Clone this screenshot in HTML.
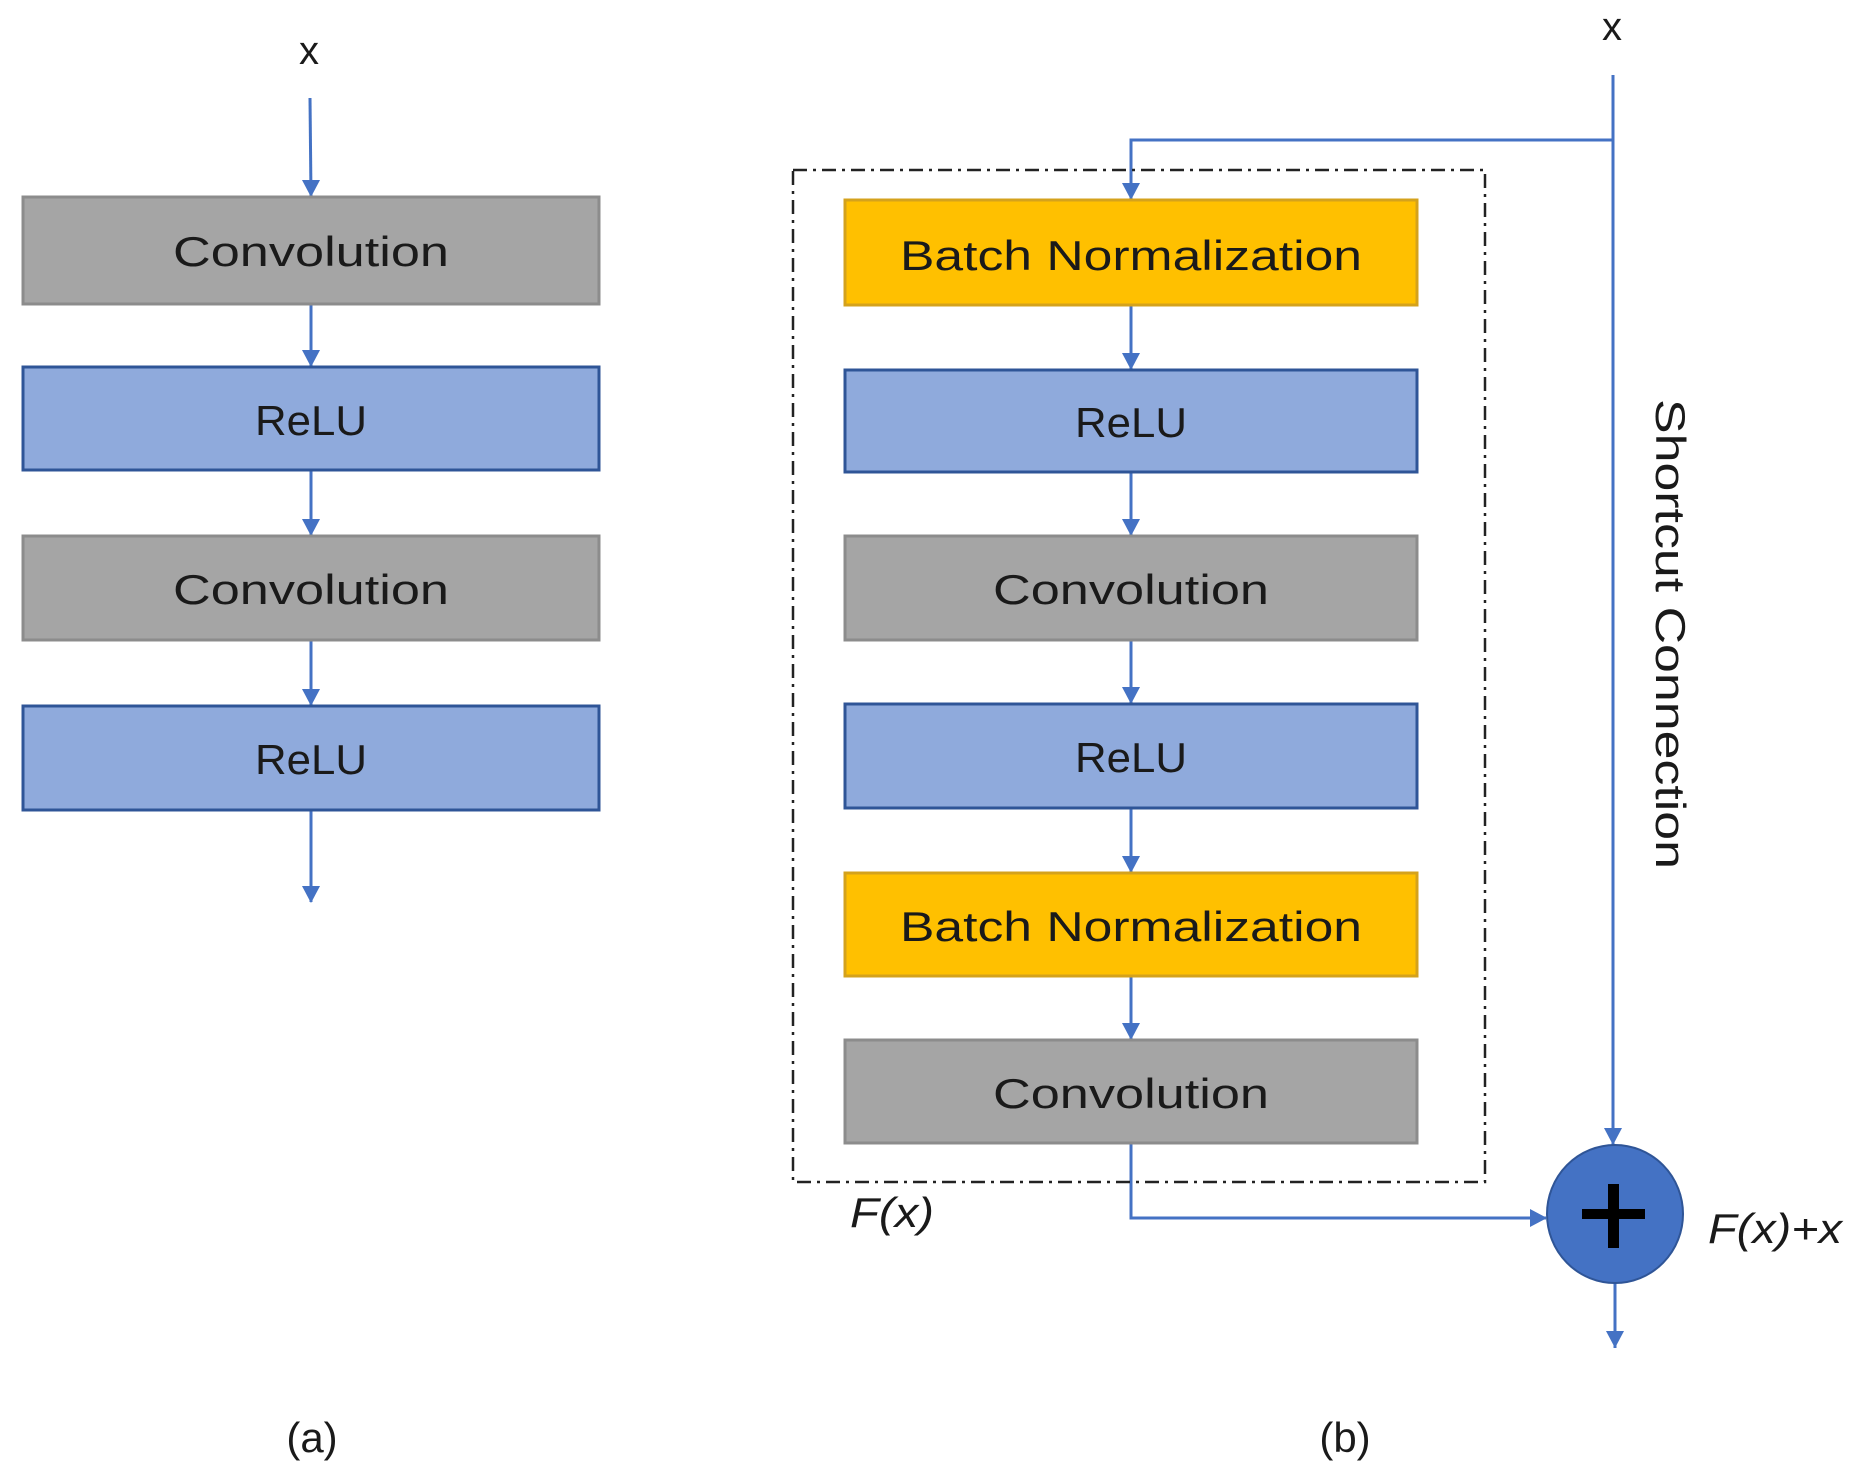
<!DOCTYPE html>
<html><head><meta charset="utf-8"><style>html,body{margin:0;padding:0;background:#fff}svg{display:block}</style></head>
<body>
<svg width="1866" height="1481" viewBox="0 0 1866 1481" xmlns="http://www.w3.org/2000/svg" font-family="Liberation Sans, sans-serif">
<g stroke="#4472c4" stroke-width="3" fill="none">
<line x1="310" y1="98" x2="311" y2="196"/>
<line x1="311" y1="305" x2="311" y2="366"/>
<line x1="311" y1="471" x2="311" y2="535"/>
<line x1="311" y1="641" x2="311" y2="705"/>
<line x1="311" y1="811" x2="311" y2="902"/>
<polyline points="1613,75 1613,140 1131,140 1131,199"/>
<line x1="1613" y1="140" x2="1613" y2="1145"/>
<line x1="1131" y1="306" x2="1131" y2="369"/>
<line x1="1131" y1="473" x2="1131" y2="535"/>
<line x1="1131" y1="641" x2="1131" y2="703"/>
<line x1="1131" y1="809" x2="1131" y2="872"/>
<line x1="1131" y1="977" x2="1131" y2="1039"/>
<polyline points="1131,1144 1131,1218 1546,1218"/>
<line x1="1615" y1="1283" x2="1615" y2="1348"/>
</g>
<g fill="#4472c4">
<path d="M302,180 L320,180 L311,197 z"/>
<path d="M302,350 L320,350 L311,367 z"/>
<path d="M302,519 L320,519 L311,536 z"/>
<path d="M302,689 L320,689 L311,706 z"/>
<path d="M302,886 L320,886 L311,903 z"/>
<path d="M1122,183 L1140,183 L1131,200 z"/>
<path d="M1122,353 L1140,353 L1131,370 z"/>
<path d="M1122,519 L1140,519 L1131,536 z"/>
<path d="M1122,687 L1140,687 L1131,704 z"/>
<path d="M1122,856 L1140,856 L1131,873 z"/>
<path d="M1122,1023 L1140,1023 L1131,1040 z"/>
<path d="M1604,1128 L1622,1128 L1613,1145 z"/>
<path d="M1530,1209 L1530,1227 L1547,1218 z"/>
<path d="M1606,1331 L1624,1331 L1615,1348 z"/>
</g>
<rect x="793" y="170" width="692" height="1012" fill="none" stroke="#222" stroke-width="2.5" stroke-dasharray="14,6,3,6"/>
<rect x="23" y="197" width="576" height="107" fill="#a5a5a5" stroke="#8c8c8c" stroke-width="3"/>
<rect x="23" y="367" width="576" height="103" fill="#8faadc" stroke="#2f5597" stroke-width="3"/>
<rect x="23" y="536" width="576" height="104" fill="#a5a5a5" stroke="#8c8c8c" stroke-width="3"/>
<rect x="23" y="706" width="576" height="104" fill="#8faadc" stroke="#2f5597" stroke-width="3"/>
<rect x="845" y="200" width="572" height="105" fill="#ffc000" stroke="#d4a21c" stroke-width="3"/>
<rect x="845" y="370" width="572" height="102" fill="#8faadc" stroke="#2f5597" stroke-width="3"/>
<rect x="845" y="536" width="572" height="104" fill="#a5a5a5" stroke="#8c8c8c" stroke-width="3"/>
<rect x="845" y="704" width="572" height="104" fill="#8faadc" stroke="#2f5597" stroke-width="3"/>
<rect x="845" y="873" width="572" height="103" fill="#ffc000" stroke="#d4a21c" stroke-width="3"/>
<rect x="845" y="1040" width="572" height="103" fill="#a5a5a5" stroke="#8c8c8c" stroke-width="3"/>
<ellipse cx="1615" cy="1214" rx="68" ry="69" fill="#4472c4" stroke="#2f5597" stroke-width="2"/>
<rect x="1582" y="1209" width="63" height="10" fill="#000"/>
<rect x="1608" y="1184" width="11" height="64" fill="#000"/>
<g fill="#1a1a1a" font-size="42" text-anchor="middle">
<text x="311" y="266" textLength="276" lengthAdjust="spacingAndGlyphs">Convolution</text>
<text x="311" y="435" textLength="112" lengthAdjust="spacingAndGlyphs">ReLU</text>
<text x="311" y="604" textLength="276" lengthAdjust="spacingAndGlyphs">Convolution</text>
<text x="311" y="774" textLength="112" lengthAdjust="spacingAndGlyphs">ReLU</text>
<text x="1131" y="270" textLength="462" lengthAdjust="spacingAndGlyphs">Batch Normalization</text>
<text x="1131" y="437" textLength="112" lengthAdjust="spacingAndGlyphs">ReLU</text>
<text x="1131" y="604" textLength="276" lengthAdjust="spacingAndGlyphs">Convolution</text>
<text x="1131" y="772" textLength="112" lengthAdjust="spacingAndGlyphs">ReLU</text>
<text x="1131" y="941" textLength="462" lengthAdjust="spacingAndGlyphs">Batch Normalization</text>
<text x="1131" y="1108" textLength="276" lengthAdjust="spacingAndGlyphs">Convolution</text>
<text x="309" y="64" font-size="40">x</text>
<text x="1612" y="40" font-size="40">x</text>
<text x="312" y="1452" font-size="42">(a)</text>
<text x="1345" y="1452" font-size="42">(b)</text>
</g>
<text x="0" y="0" font-size="42" fill="#1a1a1a" text-anchor="middle" transform="translate(1656,634) rotate(90)" textLength="470" lengthAdjust="spacingAndGlyphs">Shortcut Connection</text>
<text x="850" y="1227" font-size="42" font-style="italic" fill="#1a1a1a" textLength="84" lengthAdjust="spacingAndGlyphs">F(x)</text>
<text x="1708" y="1243" font-size="42" font-style="italic" fill="#1a1a1a" textLength="134" lengthAdjust="spacingAndGlyphs">F(x)+x</text>
</svg>
</body></html>
